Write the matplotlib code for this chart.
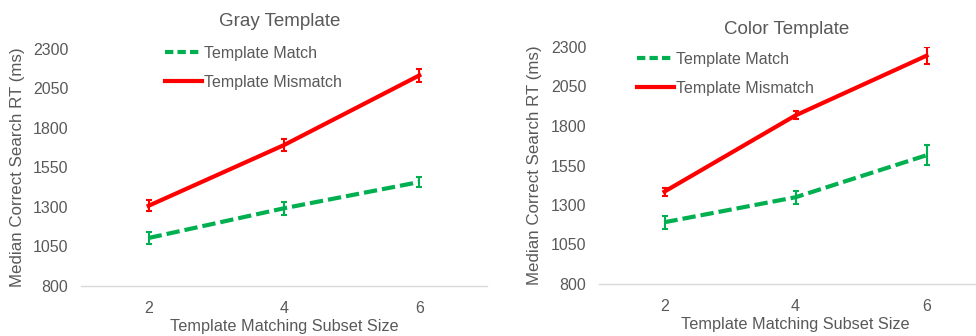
import matplotlib
matplotlib.use("Agg")
import matplotlib.pyplot as plt
from matplotlib.lines import Line2D

plt.rcParams['font.family'] = ['Liberation Sans', 'DejaVu Sans']

categories = ["2", "4", "6"]
yticks = [800, 1050, 1300, 1550, 1800, 2050, 2300]

gray_match = [1104, 1292, 1458]
gray_match_err = [37, 42, 30]
gray_mismatch = [1308, 1692, 2133]
gray_mismatch_err = [36, 40, 40]

color_match = [1191, 1349, 1615]
color_match_err = [40, 42, 65]
color_mismatch = [1385, 1867, 2245]
color_mismatch_err = [25, 25, 53]

titles = ["Gray Template", "Color Template"]

W, H = 976, 336
fig = plt.figure(figsize=(W / 100, H / 100), dpi=100)

TXT = "#595959"
GREEN = "#00b050"
RED = "#ff0000"
DASH = (0, (3.2, 1.2))


def px_axes(x0, x1, ytop, ybot):
    return fig.add_axes([x0 / W, 1 - ybot / H, (x1 - x0) / W, (ybot - ytop) / H])


panels = [
    dict(box=(81, 487, 49, 286), data=(gray_match, gray_match_err, gray_mismatch, gray_mismatch_err),
         title_xy=(280, 21), ylab_x=18, leg_xy=(165, 46)),
    dict(box=(599, 992, 47, 284), data=(color_match, color_match_err, color_mismatch, color_mismatch_err),
         title_xy=(787, 29), ylab_x=535, leg_xy=(637, 52)),
]

for i, p in enumerate(panels):
    x0, x1, yt, yb = p["box"]
    ax = px_axes(x0, x1, yt, yb)
    m, me, mm, mme = p["data"]
    xs = list(range(len(categories)))
    ax.errorbar(xs, m, yerr=me, color=GREEN, lw=3, ls=DASH, capsize=2.5,
                elinewidth=1.5, capthick=1.5, zorder=3)
    ax.errorbar(xs, mm, yerr=mme, color=RED, lw=3, capsize=2.5,
                elinewidth=1.5, capthick=1.5, zorder=3)
    ax.set_xlim(-0.5, 2.5)
    ax.set_ylim(800, 2300)
    ax.set_xticks(xs)
    ax.set_xticklabels(categories)
    ax.set_yticks(yticks)
    for s in ["top", "right", "left"]:
        ax.spines[s].set_visible(False)
    ax.spines["bottom"].set_color("#d9d9d9")
    ax.spines["bottom"].set_linewidth(1)
    ax.tick_params(length=0, colors=TXT, labelsize=11.5)
    ax.tick_params(axis="y", pad=9)
    ax.tick_params(axis="x", pad=11)
    ax.set_xlabel("Template Matching Subset Size", color=TXT, fontsize=11.7, labelpad=2)
    ax.patch.set_alpha(0)

    tx, ty = p["title_xy"]
    fig.text(tx / W, 1 - ty / H, titles[i], ha="center", va="center", color=TXT, fontsize=13.5)
    fig.text(p["ylab_x"] / W, 1 - (yt + yb) / 2 / H, "Median Correct Search RT (ms)",
             rotation=90, ha="center", va="center", color=TXT, fontsize=12.2)

    handles = [Line2D([], [], color=GREEN, lw=3, ls=(0, (2.0, 1.0))),
               Line2D([], [], color=RED, lw=3)]
    lx, ly = p["leg_xy"]
    fig.legend(handles, ["Template Match", "Template Mismatch"], loc="upper left",
               bbox_to_anchor=(lx / W, 1 - ly / H), frameon=False, borderpad=0,
               borderaxespad=0, handlelength=2.3, handletextpad=0.12, labelspacing=0.88,
               fontsize=11.5, labelcolor=TXT)

fig.savefig("out.png", dpi=100, facecolor="white")
